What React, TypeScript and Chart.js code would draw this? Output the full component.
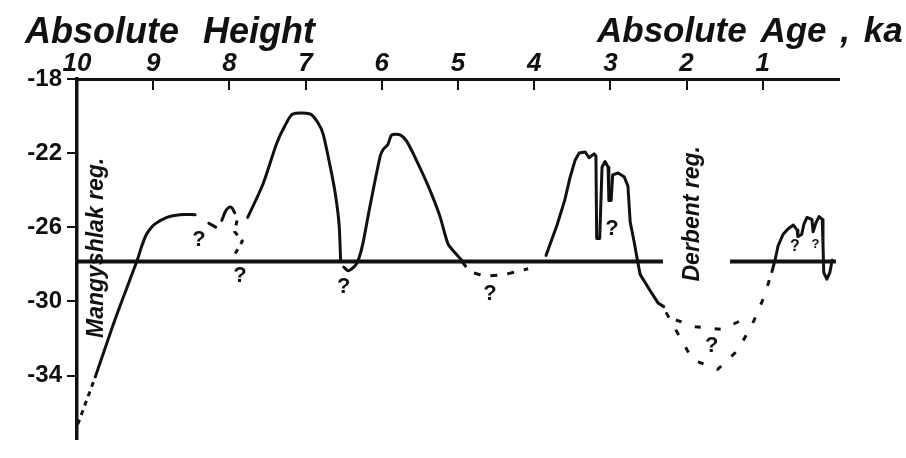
import React, { useEffect, useRef } from 'react';
import { Chart, registerables } from 'chart.js';

Chart.register(...registerables);

type Pt = [number, number];

// ---- axes ----
const xTickValues = [10, 9, 8, 7, 6, 5, 4, 3, 2, 1];
const yTickValues = [-18, -22, -26, -30, -34];
const xMin = 0;
const xMax = 10;
const yMin = -37.4;
const yMax = -18;

// ---- texts ----
const titleLeft = 'Absolute Height';
const titleRight = 'Absolute Age , ka';
const regionLabels = ['Mangyshlak reg.', 'Derbent reg.'];
const regionX = [9.74, 1.92];
const regionY = [-27.11, -25.27];

// ---- reference level (horizontal line) ----
const referenceLevel = -27.85;
const levelWest: Pt[] = [[10, referenceLevel], [2.31, referenceLevel]];
const levelEast: Pt[] = [[1.43, referenceLevel], [0.04, referenceLevel]];

// ---- curve series (age ka, height m) ----
const mangyshlakDashed: Pt[] = [[9.99, -36.63], [9.76, -34.07]];
const mangyshlakSolid: Pt[] = [
  [9.76, -34.07], [9.49, -30.85], [9.21, -27.78], [9.15, -27.01], [9.09, -26.39],
  [9.04, -26.09], [8.98, -25.83], [8.82, -25.47], [8.65, -25.32], [8.45, -25.32],
];
const smallMark: Pt[] = [[8.27, -25.78], [8.18, -25.99]];
const hookSolid: Pt[] = [[8.10, -25.63], [8.04, -25.06], [7.98, -24.91], [7.93, -25.22]];
const hookDashed: Pt[] = [[7.90, -25.63], [7.93, -26.24], [7.83, -26.75], [7.93, -27.47]];
const peak7: Pt[] = [
  [7.76, -25.47], [7.56, -23.68], [7.38, -21.48], [7.27, -20.51], [7.17, -19.89],
  [6.94, -19.89], [6.84, -20.35], [6.77, -20.97], [6.68, -22.66], [6.61, -24.19],
  [6.56, -25.88], [6.54, -27.85],
];
const peak6: Pt[] = [
  [6.50, -28.15], [6.44, -28.34], [6.35, -28.08], [6.30, -27.67], [6.25, -26.91],
  [6.155, -24.86], [6.02, -22.15], [5.98, -21.79], [5.92, -21.53], [5.87, -21.02],
  [5.76, -21.02], [5.67, -21.38], [5.525, -22.56], [5.39, -23.78], [5.24, -25.37],
  [5.13, -26.91], [5.04, -27.37], [4.95, -27.78],
];
const trough5Dashed: Pt[] = [[4.95, -27.85], [4.84, -28.39], [4.65, -28.65], [4.38, -28.54], [4.08, -28.24]];
const peak3: Pt[] = [
  [3.845, -27.52], [3.70, -25.88], [3.60, -24.55], [3.53, -23.32], [3.465, -22.40],
  [3.41, -21.99], [3.33, -21.94], [3.28, -22.25], [3.215, -22.04], [3.19, -22.15],
  [3.18, -26.60], [3.14, -26.60], [3.11, -22.76], [3.07, -22.45], [3.03, -22.76],
  [3.02, -24.55], [2.99, -24.55], [2.97, -23.17], [2.90, -23.07], [2.82, -23.27],
  [2.77, -23.78], [2.74, -25.73], [2.69, -26.75], [2.65, -27.67], [2.61, -28.54],
  [2.48, -29.41], [2.375, -30.08], [2.30, -30.28],
];
const derbentLowerDashed: Pt[] = [
  [2.27, -30.59], [2.11, -31.77], [1.92, -33.15], [1.59, -33.66], [1.33, -32.64],
  [1.14, -31.26], [0.98, -29.72], [0.88, -28.39],
];
const derbentUpperDashed: Pt[] = [[2.14, -31.0], [1.89, -31.36], [1.54, -31.51], [1.19, -30.85]];
const derbentPeak: Pt[] = [
  [0.88, -28.39], [0.84, -27.78], [0.80, -27.01], [0.735, -26.39], [0.67, -26.09],
  [0.60, -25.88], [0.55, -26.14], [0.54, -26.50], [0.49, -26.39], [0.46, -25.83],
  [0.42, -25.47], [0.355, -25.58], [0.34, -26.24], [0.30, -25.73], [0.26, -25.42],
  [0.22, -25.58], [0.21, -26.91], [0.20, -28.44], [0.16, -28.80], [0.12, -28.44],
  [0.09, -27.78],
];

// ---- question marks ----
const qMarkX = [8.40, 7.86, 6.50, 4.58, 2.98, 1.67, 0.58, 0.31];
const qMarkY = [-26.70, -28.65, -29.21, -29.62, -26.09, -32.38, -27.06, -26.91];

// ---- styles ----
const INK = '#111111';
const FONT = '"Liberation Sans", Arial, Helvetica, sans-serif';
const qMarkFontSizes = [22, 22, 22, 22, 22, 22, 16, 13];
const regionFontSizes = [23, 23];

const annotPlugin = {
  id: 'annot',
  afterDraw(chart: any) {
    const { ctx, chartArea } = chart;
    const xs = chart.scales.x;
    const ys = chart.scales.y;
    ctx.save();
    // inward ticks on the top axis
    ctx.strokeStyle = INK;
    ctx.lineWidth = 2;
    xTickValues.forEach((v) => {
      if (v === xMax) return;
      const px = Math.round(xs.getPixelForValue(v));
      ctx.beginPath();
      ctx.moveTo(px, chartArea.top);
      ctx.lineTo(px, chartArea.top + 11);
      ctx.stroke();
    });
    // question marks
    ctx.fillStyle = INK;
    ctx.textAlign = 'center';
    ctx.textBaseline = 'middle';
    qMarkX.forEach((qx, i) => {
      ctx.font = `bold ${qMarkFontSizes[i]}px ${FONT}`;
      ctx.fillText('?', xs.getPixelForValue(qx), ys.getPixelForValue(qMarkY[i]));
    });
    // rotated region labels
    regionLabels.forEach((t, i) => {
      ctx.save();
      ctx.translate(xs.getPixelForValue(regionX[i]), ys.getPixelForValue(regionY[i]));
      ctx.rotate(-Math.PI / 2);
      ctx.font = `italic bold ${regionFontSizes[i]}px ${FONT}`;
      ctx.fillText(t, 0, 0);
      ctx.restore();
    });
    // titles
    ctx.textAlign = 'left';
    ctx.textBaseline = 'alphabetic';
    ctx.font = `italic bold 36px ${FONT}`;
    (ctx as any).wordSpacing = '14px';
    ctx.fillText(titleLeft, 25, 43);
    ctx.font = `italic bold 35px ${FONT}`;
    (ctx as any).wordSpacing = '4px';
    ctx.fillText(titleRight, 597, 42);
    (ctx as any).wordSpacing = '0px';
    ctx.restore();
  },
};

function series(data: Pt[], extra: Record<string, unknown> = {}) {
  return {
    data: data.map(([x, y]) => ({ x, y })),
    borderColor: INK,
    borderWidth: 3,
    pointRadius: 0,
    pointHoverRadius: 0,
    tension: 0,
    fill: false,
    borderCapStyle: 'round',
    borderJoinStyle: 'round',
    ...extra,
  };
}

export default function App() {
  const canvasRef = useRef<HTMLCanvasElement | null>(null);

  useEffect(() => {
    const canvas = canvasRef.current;
    if (!canvas) return;
    const chart = new Chart(canvas, {
      type: 'line',
      data: {
        datasets: [
          series(levelWest, { borderWidth: 4, borderCapStyle: 'butt' }),
          series(levelEast, { borderWidth: 4, borderCapStyle: 'butt' }),
          series(mangyshlakDashed, { borderDash: [5, 5], borderCapStyle: 'butt' }),
          series(mangyshlakSolid, { tension: 0.3 }),
          series(smallMark),
          series(hookSolid, { tension: 0.4 }),
          series(hookDashed, { borderDash: [5, 6], borderCapStyle: 'butt' }),
          series(peak7, { tension: 0.25 }),
          series(peak6, { tension: 0.25 }),
          series(trough5Dashed, { borderDash: [7, 10], borderCapStyle: 'butt' }),
          series(peak3),
          series(derbentLowerDashed, { borderDash: [6, 14], borderCapStyle: 'butt' }),
          series(derbentUpperDashed, { borderDash: [6, 14], borderCapStyle: 'butt' }),
          series(derbentPeak),
        ] as any,
      },
      options: {
        animation: false,
        responsive: false,
        events: [],
        layout: { padding: { left: 0, right: 67, top: 0, bottom: 0 } },
        plugins: {
          legend: { display: false },
          tooltip: { enabled: false },
          title: { display: false },
        },
        scales: {
          x: {
            type: 'linear',
            position: 'top',
            reverse: true,
            min: xMin,
            max: xMax,
            afterFit: (s: any) => { s.height = 79; },
            afterBuildTicks: (s: any) => { s.ticks = xTickValues.map((v) => ({ value: v })); },
            grid: { display: false },
            border: { display: true, color: INK, width: 3 },
            ticks: {
              font: { family: FONT, size: 26, style: 'italic', weight: 'bold' },
              color: INK,
              padding: -8,
              maxRotation: 0,
              autoSkip: false,
            },
          },
          y: {
            type: 'linear',
            min: yMin,
            max: yMax,
            afterFit: (s: any) => { s.width = 77; },
            afterBuildTicks: (s: any) => { s.ticks = yTickValues.map((v) => ({ value: v })); },
            grid: { display: true, drawOnChartArea: false, drawTicks: true, tickLength: 10, color: INK, lineWidth: 2 },
            border: { display: true, color: INK, width: 3.5 },
            ticks: {
              font: { family: FONT, size: 24, weight: 'bold' },
              color: INK,
              padding: 5,
              autoSkip: false,
            },
          },
        },
      } as any,
      plugins: [annotPlugin],
    });
    return () => chart.destroy();
  }, []);

  return (
    <div style={{ position: 'absolute', left: 0, top: 0, width: 906, height: 458, background: '#fff' }}>
      <canvas ref={canvasRef} width={906} height={458} style={{ display: 'block' }} />
    </div>
  );
}
